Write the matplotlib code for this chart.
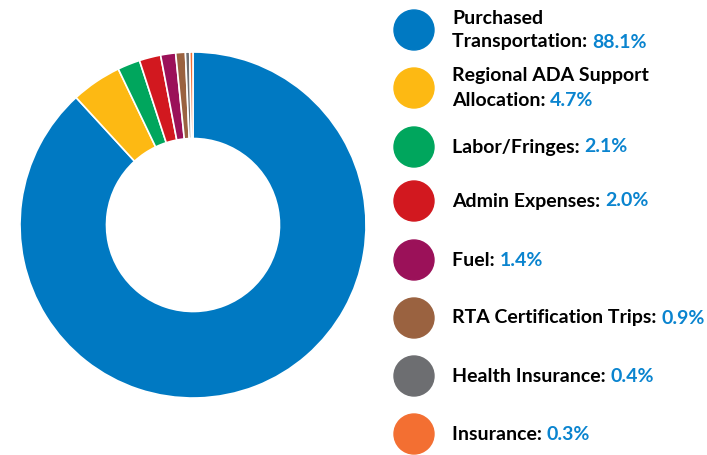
import matplotlib
matplotlib.use("Agg")
import matplotlib.pyplot as plt
from matplotlib.patches import Circle

labels = ["Purchased\nTransportation:", "Regional ADA Support\nAllocation:", "Labor/Fringes:",
          "Admin Expenses:", "Fuel:", "RTA Certification Trips:", "Health Insurance:", "Insurance:"]
values = [88.1, 4.7, 2.1, 2.0, 1.4, 0.9, 0.4, 0.3]
colors = ["#0079C2", "#FDB913", "#00A65D", "#D2181F", "#9B1159", "#9A6240", "#6D6E71", "#F36F32"]
value_color = "#0A84CF"

plt.rcParams['font.family'] = ['Lato', 'DejaVu Sans']

fig = plt.figure(figsize=(7.07, 4.55), dpi=100)
W, H = 707, 455

# donut
cx, cy, r = 193, 225, 173
ax = fig.add_axes([(cx - r) / W, (H - cy - r) / H, 2 * r / W, 2 * r / H])
ax.pie(values, colors=colors, startangle=90, counterclock=False, radius=1,
       wedgeprops=dict(width=0.5, edgecolor="white", linewidth=1.2))
ax.set_xlim(-1, 1)
ax.set_ylim(-1, 1)
ax.set_aspect("equal")
ax.axis("off")

# legend drawn in pixel coords
lax = fig.add_axes([0, 0, 1, 1])
lax.set_xlim(0, W)
lax.set_ylim(H, 0)
lax.axis("off")

fs = 14
ys = [30, 88, 147, 201, 260, 318, 376, 434]
for lab, v, c, y in zip(labels, values, colors, ys):
    lax.add_patch(Circle((414, y), 20, color=c))
    lines = lab.split("\n")
    if len(lines) == 2:
        lax.text(452, y - 12, lines[0], fontsize=fs, fontweight="bold", va="center", ha="left")
        t = lax.text(452, y + 12, lines[1] + " ", fontsize=fs, fontweight="bold", va="center", ha="left")
    else:
        t = lax.text(452, y, lines[0] + " ", fontsize=fs, fontweight="bold", va="center", ha="left")
    lax.annotate(f"{v}%", xy=(1, 0), xycoords=t, fontsize=fs, fontweight="bold",
                 color=value_color, va="bottom", ha="left")

fig.savefig("out.png", dpi=100)
